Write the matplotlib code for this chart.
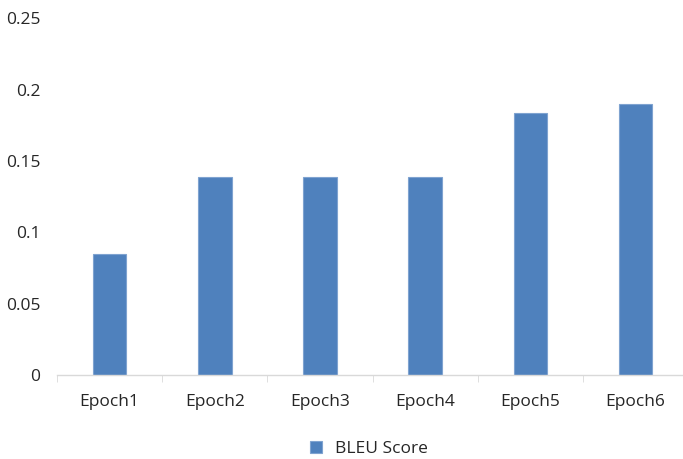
import matplotlib.pyplot as plt
import numpy as np

# BLEU score per training epoch
epochs = ["Epoch1", "Epoch2", "Epoch3", "Epoch4", "Epoch5", "Epoch6"]
bleu = [0.085, 0.139, 0.139, 0.139, 0.184, 0.190]
yticks = [0, 0.05, 0.1, 0.15, 0.2, 0.25]
ytick_labels = ["0", "0.05", "0.1", "0.15", "0.2", "0.25"]

plt.rcParams["font.family"] = ["Open Sans", "DejaVu Sans"]

fig = plt.figure(figsize=(6.83, 4.59), dpi=100)
ax = fig.add_axes([0.0835, 0.183, 0.924, 0.777])

x = np.arange(len(epochs))
ax.bar(x, bleu, width=0.32, color="#4F81BD", edgecolor="#7FA3D0",
       linewidth=0.8, label="BLEU Score", zorder=2)

ax.set_xlim(-0.5, len(epochs) - 0.5)
ax.set_ylim(0, 0.25)
ax.set_yticks(yticks)
ax.set_yticklabels(ytick_labels)
ax.set_xticks(x)
ax.set_xticklabels(epochs)

# category boundary ticks below the axis
ax.set_xticks(np.arange(len(epochs) + 1) - 0.5, minor=True)
ax.tick_params(axis="x", which="major", length=0, pad=14, labelsize=12.5, labelcolor="#262626")
ax.tick_params(axis="x", which="minor", length=5, color="#D9D9D9", direction="out")
ax.tick_params(axis="y", length=0, pad=12, labelsize=12.5, labelcolor="#262626")

for s in ["top", "right", "left"]:
    ax.spines[s].set_visible(False)
ax.spines["bottom"].set_color("#D9D9D9")
ax.spines["bottom"].set_linewidth(1.0)

leg = fig.legend(loc="lower center", bbox_to_anchor=(0.54, -0.03), frameon=False,
                 fontsize=12.5, handlelength=0.7, handleheight=0.7, handletextpad=0.7)
for t in leg.get_texts():
    t.set_color("#262626")

fig.savefig("out.png", dpi=100)
